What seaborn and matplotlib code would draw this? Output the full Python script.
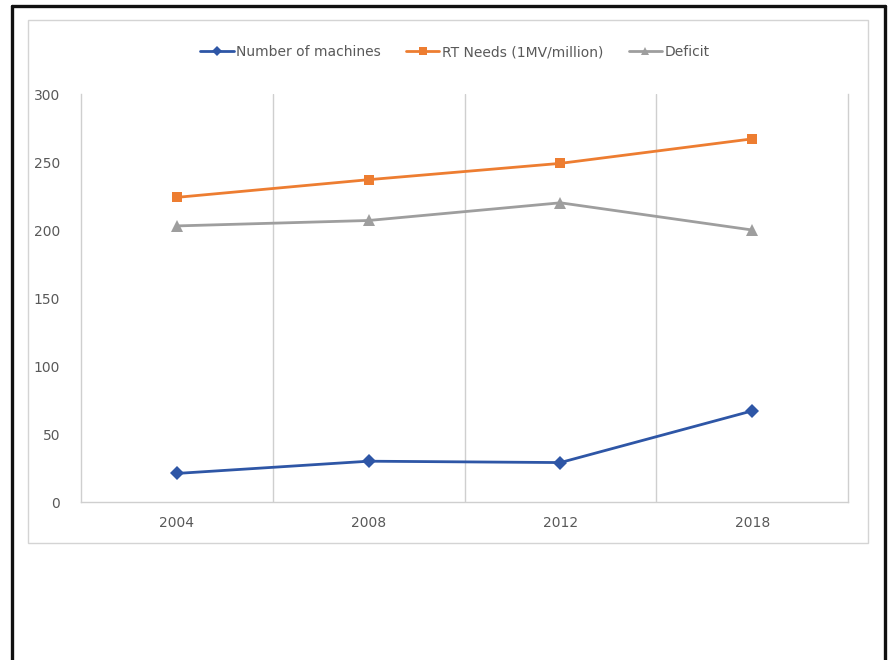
import matplotlib
matplotlib.use("Agg")
import matplotlib.pyplot as plt
import seaborn as sns
import pandas as pd
from matplotlib.lines import Line2D
from matplotlib.patches import Rectangle

years = ["2004", "2008", "2012", "2018"]
machines = [21, 30, 29, 67]
rt_needs = [224, 237, 249, 267]
deficit = [203, 207, 220, 200]
series_names = ["Number of machines", "RT Needs (1MV/million)", "Deficit"]
yticks = [0, 50, 100, 150, 200, 250, 300]

sns.set_theme(style="white")
plt.rcParams['font.family'] = ['DejaVu Sans']

W, H = 888, 660
fig = plt.figure(figsize=(W / 100, H / 100), dpi=100)

# outer black frame (left, top, right)
fig.add_artist(Line2D([11.5 / W, 11.5 / W], [0, 1 - 6 / H], color="#111111", lw=2.4, transform=fig.transFigure))
fig.add_artist(Line2D([11.5 / W, 884.5 / W], [1 - 6 / H, 1 - 6 / H], color="#111111", lw=2.4, transform=fig.transFigure))
fig.add_artist(Line2D([884.5 / W, 884.5 / W], [0, 1 - 6 / H], color="#111111", lw=2.4, transform=fig.transFigure))

# inner chart-area box
fig.add_artist(Rectangle((28 / W, 1 - 543 / H), (868 - 28) / W, (543 - 20) / H, fill=False,
                         edgecolor="#d4d4d4", lw=1.0, transform=fig.transFigure))

ax = fig.add_axes([81 / W, 1 - 502 / H, (848 - 81) / W, (502 - 94) / H])

df = pd.DataFrame({
    "idx": list(range(len(years))) * 3,
    "value": machines + rt_needs + deficit,
    "series": [series_names[0]] * 4 + [series_names[1]] * 4 + [series_names[2]] * 4,
})

colors = {series_names[0]: "#2E56A6", series_names[1]: "#ED7D31", series_names[2]: "#9E9E9E"}
markers = {series_names[0]: "D", series_names[1]: "s", series_names[2]: "^"}
msize = {series_names[0]: 7, series_names[1]: 7.5, series_names[2]: 8.5}

handles = []
for name in series_names:
    sub = df[df["series"] == name]
    sns.lineplot(data=sub, x="idx", y="value", ax=ax, color=colors[name], lw=2.0,
                 marker=markers[name], markersize=msize[name], markeredgewidth=0,
                 legend=False)
    handles.append(Line2D([0], [0], color=colors[name], lw=2.0, marker=markers[name],
                          markersize=5.5, markeredgewidth=0))

ax.set_xlim(-0.5, len(years) - 0.5)
ax.set_ylim(0, 300)
ax.set_yticks(yticks)
ax.set_xticks(range(len(years)))
ax.set_xticklabels(years)
ax.set_xticks([i - 0.5 for i in range(1, len(years))], minor=True)
ax.grid(False)
ax.grid(True, which="minor", axis="x", color="#cfcfcf", lw=1.0)
ax.set_xlabel("")
ax.set_ylabel("")
ax.spines["top"].set_visible(False)
for s in ["left", "bottom", "right"]:
    ax.spines[s].set_visible(True)
    ax.spines[s].set_color("#cfcfcf")
    ax.spines[s].set_linewidth(1.0)
ax.tick_params(axis="both", which="both", length=0)
ax.tick_params(axis="y", pad=15, labelsize=10, labelcolor="#595959")
ax.tick_params(axis="x", pad=10, labelsize=10, labelcolor="#595959")
ax.set_facecolor("white")

fig.legend(handles, series_names, loc="center", bbox_to_anchor=(455 / W, 1 - 52 / H),
           ncol=3, frameon=False, fontsize=10, labelcolor="#595959",
           handlelength=2.4, handletextpad=0.2, columnspacing=1.8)

fig.savefig("out.png", dpi=100, facecolor="white")
